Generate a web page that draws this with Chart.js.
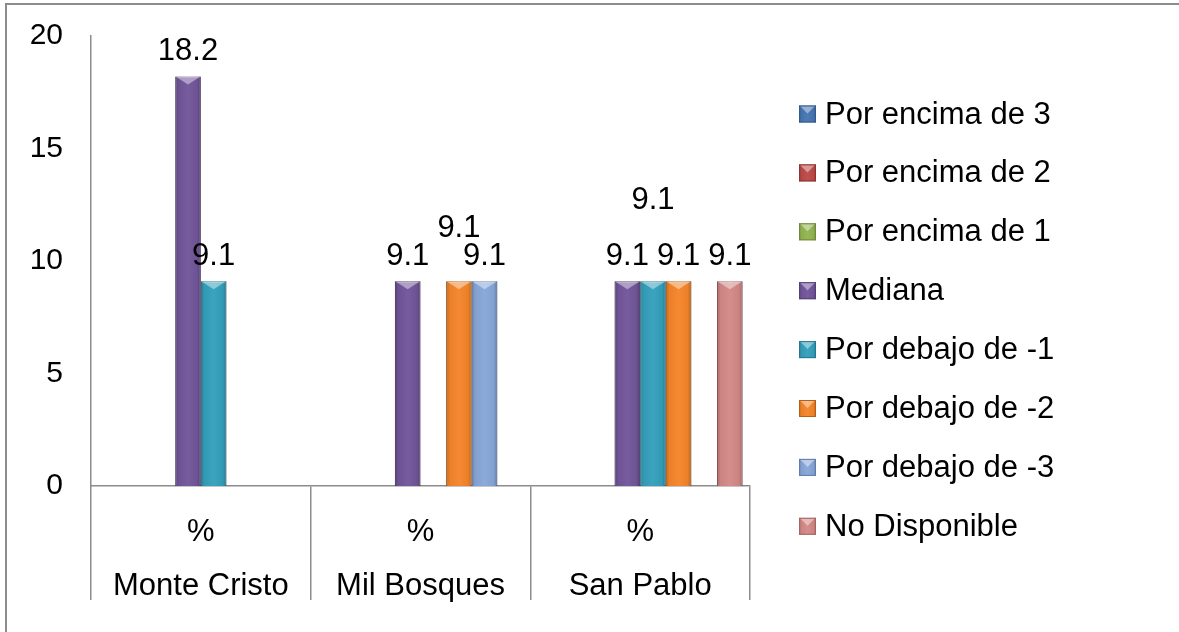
<!DOCTYPE html>
<html>
<head>
<meta charset="utf-8">
<script src="https://cdn.jsdelivr.net/npm/chart.js@4.4.1/dist/chart.umd.min.js"></script>
<style>
  html, body { margin: 0; padding: 0; background: #ffffff; }
  #wrap { width: 1179px; height: 632px; position: relative; }
  canvas { display: block; }
</style>
</head>
<body>
<div id="wrap"><canvas id="c" width="1179" height="632"></canvas></div>
<script>
// ---- Data ----
const categories = [['%', 'Monte Cristo'], ['%', 'Mil Bosques'], ['%', 'San Pablo']];
const seriesNames = ['Por encima de 3', 'Por encima de 2', 'Por encima de 1', 'Mediana',
                     'Por debajo de -1', 'Por debajo de -2', 'Por debajo de -3', 'No Disponible'];
const porEncima3   = [null, null, null];
const porEncima2   = [null, null, null];
const porEncima1   = [null, null, null];
const mediana      = [18.2, 9.1, 9.1];
const porDebajo1   = [9.1, null, 9.1];
const porDebajo2   = [null, 9.1, 9.1];
const porDebajo3   = [null, 9.1, null];
const noDisponible = [null, null, 9.1];
const yTicks = [0, 5, 10, 15, 20];

const seriesValues = [porEncima3, porEncima2, porEncima1, mediana, porDebajo1, porDebajo2, porDebajo3, noDisponible];
const seriesColors = ['#4676B4', '#BC4A47', '#93B550', '#71559A', '#34A0BC', '#F4852A', '#87A6D8', '#D38986'];
const seriesBorders = ['#34598a', '#8f3432', '#6f8a3a', '#553f75', '#267890', '#b85f16', '#5f7eaf', '#a56563'];

const FONT = '"Liberation Sans", Arial, sans-serif';
const AXIS_GRAY = '#8C8C8C';

function shadeBar(ctx, left, top, w, h) {
  ctx.save();
  const g = ctx.createLinearGradient(left, 0, left + w, 0);
  g.addColorStop(0, 'rgba(0,0,0,0.22)');
  g.addColorStop(0.14, 'rgba(0,0,0,0.04)');
  g.addColorStop(0.5, 'rgba(255,255,255,0.04)');
  g.addColorStop(0.86, 'rgba(0,0,0,0.04)');
  g.addColorStop(1, 'rgba(0,0,0,0.26)');
  ctx.fillStyle = g;
  ctx.fillRect(left, top, w, h);
  const th = Math.min(8, h / 2);
  ctx.beginPath();
  ctx.moveTo(left + 1, top + 0.5);
  ctx.lineTo(left + w - 1, top + 0.5);
  ctx.lineTo(left + w / 2, top + th);
  ctx.closePath();
  ctx.fillStyle = 'rgba(255,255,255,0.42)';
  ctx.fill();
  ctx.restore();
}

const bevelPlugin = {
  id: 'bevel',
  afterDatasetDraw(chart, args) {
    const ctx = chart.ctx;
    args.meta.data.forEach((el, i) => {
      const v = chart.data.datasets[args.index].data[i];
      if (v === null || v === undefined) return;
      const p = el.getProps(['x', 'y', 'base', 'width'], true);
      shadeBar(ctx, p.x - p.width / 2, p.y, p.width, p.base - p.y);
    });
  }
};

const frameLegendPlugin = {
  id: 'frameLegend',
  beforeDraw(chart) {
    const ctx = chart.ctx;
    ctx.save();
    ctx.fillStyle = '#ffffff';
    ctx.fillRect(0, 0, chart.width, chart.height);
    ctx.strokeStyle = AXIS_GRAY;
    ctx.lineWidth = 2;
    ctx.strokeRect(6, 4, 3000, 3000);
    ctx.restore();
  },
  afterDraw(chart) {
    const ctx = chart.ctx;
    ctx.save();
    const x0 = 799, y0 = 114, step = 58.9, box = 17;
    ctx.font = '31px ' + FONT;
    ctx.textBaseline = 'middle';
    ctx.textAlign = 'left';
    chart.data.datasets.forEach((ds, i) => {
      const cy = y0 + i * step;
      ctx.fillStyle = ds.backgroundColor;
      ctx.fillRect(x0, cy - box / 2, box, box);
      shadeBar(ctx, x0, cy - box / 2, box, box);
      ctx.strokeStyle = ds.borderColor;
      ctx.lineWidth = 1;
      ctx.strokeRect(x0 + 0.5, cy - box / 2 + 0.5, box - 1, box - 1);
      ctx.fillStyle = '#000000';
      ctx.fillText(ds.label, x0 + 26, cy + 1);
    });
    ctx.restore();
  }
};

const dataLabelPlugin = {
  id: 'dataLabels',
  afterDatasetsDraw(chart) {
    const ctx = chart.ctx;
    ctx.save();
    ctx.font = '31px ' + FONT;
    ctx.fillStyle = '#000000';
    ctx.textAlign = 'center';
    ctx.textBaseline = 'alphabetic';
    const gap = 16.5, lh = 28, capH = 23;
    const nDs = chart.data.datasets.length;
    chart.data.labels.forEach((lab, ci) => {
      const orig = [];
      for (let di = nDs - 1; di >= 0; di--) {
        const v = chart.data.datasets[di].data[ci];
        if (v === null || v === undefined) continue;
        const el = chart.getDatasetMeta(di).data[ci];
        const txt = v.toFixed(1);
        const w = ctx.measureText(txt).width;
        orig.push({ di, txt, x: el.x, y: el.y - gap, w });
      }
      const overlaps = (a, ay, b, by) =>
        Math.abs(a.x - b.x) < (a.w + b.w) / 2 && Math.abs(ay - by) < capH;
      const placed = [];
      orig.forEach(L => {
        let y = L.y;
        if (placed.some(P => overlaps(L, y, P, P.py))) {
          const cnt = orig.filter(O => O !== L && overlaps(L, L.y, O, O.y)).length;
          y = L.y - cnt * lh;
        }
        placed.push(Object.assign({}, L, { py: y }));
        ctx.fillText(L.txt, L.x, y);
      });
    });
    ctx.restore();
  }
};

const datasets = seriesNames.map((name, i) => ({
  label: name,
  data: seriesValues[i],
  backgroundColor: seriesColors[i],
  borderColor: seriesBorders[i],
  borderWidth: 1,
  borderSkipped: 'bottom',
  barPercentage: 1.0,
  categoryPercentage: 0.933
}));

new Chart(document.getElementById('c'), {
  type: 'bar',
  data: { labels: categories, datasets },
  options: {
    responsive: false,
    animation: false,
    events: [],
    layout: { padding: { top: 36, right: 429, bottom: 0, left: 0 } },
    plugins: {
      legend: { display: false },
      tooltip: { enabled: false },
      title: { display: false }
    },
    scales: {
      x: {
        grid: {
          display: true, offset: true, drawOnChartArea: false, drawTicks: true,
          tickLength: 114, color: AXIS_GRAY, lineWidth: 1.5
        },
        border: { display: true, color: AXIS_GRAY, width: 1.5 },
        ticks: {
          color: '#000000', font: { family: FONT, size: 31, lineHeight: 1.72 },
          padding: -94, maxRotation: 0, autoSkip: false
        },
        afterFit(scale) { scale.height = 146; scale.paddingLeft = 0; scale.paddingRight = 0; }
      },
      y: {
        min: 0, max: 20,
        afterBuildTicks(scale) { scale.ticks = yTicks.map(v => ({ value: v })); },
        grid: { display: false, drawTicks: false },
        border: { display: true, color: AXIS_GRAY, width: 1.5 },
        ticks: { color: '#000000', font: { family: FONT, size: 30 }, padding: 28 },
        afterFit(scale) { scale.width = 91; scale.paddingTop = 0; scale.paddingBottom = 0; }
      }
    }
  },
  plugins: [frameLegendPlugin, bevelPlugin, dataLabelPlugin]
});
</script>
</body>
</html>
